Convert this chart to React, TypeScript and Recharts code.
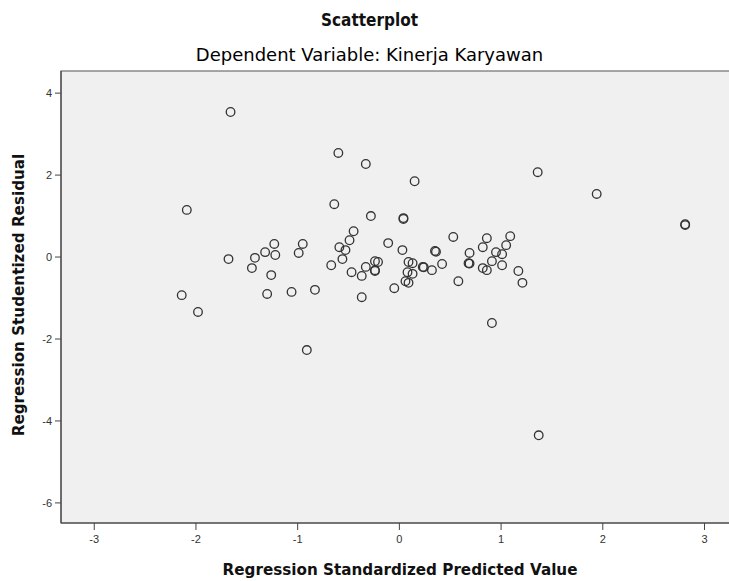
import React from "react";
import {
  ScatterChart,
  Scatter,
  XAxis,
  YAxis,
  ReferenceArea,
} from "recharts";

// Regression Standardized Predicted Value
const predicted = [
  -1.66, -0.6, -0.33, 0.15, 1.36, 1.94, -2.09, -0.64, -0.28, 0.04, 0.04, 2.81, 2.81,
  -0.45, -0.49, -0.11, -0.59, -0.53, 0.03, -1.23, -0.95, -1.32, -1.22, -0.99, -1.42,
  -1.68, -1.45, -0.56, -0.67, -1.26, -0.47, -0.37, -0.33, -0.24, -0.21, -0.24, -0.24,
  0.09, 0.13, 0.08, 0.13, 0.23, 0.24, 0.32, 0.06, 0.09, -0.05, -2.14, -1.98, -1.3,
  -1.06, -0.83, -0.37, -0.91, 0.35, 0.36, 1.37, 0.53, 0.42, 0.69, 0.68, 0.69, 0.58,
  0.86, 0.82, 1.09, 1.05, 0.95, 1.01, 0.91, 1.01, 0.82, 0.86, 1.17, 1.21, 0.91,
];

// Regression Studentized Residual
const residual = [
  3.54, 2.54, 2.27, 1.85, 2.07, 1.54, 1.15, 1.29, 1.0, 0.95, 0.93, 0.8, 0.78,
  0.63, 0.41, 0.34, 0.24, 0.17, 0.17, 0.32, 0.32, 0.12, 0.05, 0.1, -0.02,
  -0.05, -0.27, -0.05, -0.2, -0.44, -0.37, -0.46, -0.24, -0.1, -0.12, -0.34, -0.32,
  -0.12, -0.15, -0.37, -0.41, -0.24, -0.25, -0.32, -0.59, -0.63, -0.76, -0.93, -1.34, -0.9,
  -0.85, -0.8, -0.98, -2.27, 0.15, 0.13, -4.35, 0.49, -0.17, 0.1, -0.15, -0.16, -0.59,
  0.46, 0.24, 0.51, 0.29, 0.12, 0.07, -0.1, -0.2, -0.27, -0.32, -0.34, -0.63, -1.61,
];

const xTicks = [-3, -2, -1, 0, 1, 2, 3];
const yTicks = [4, 2, 0, -2, -4, -6];
const xDomain: [number, number] = [-3.327, 3.3];
const yDomain: [number, number] = [-6.49, 4.54];

const points = predicted.map((x, i) => ({ x, y: residual[i] }));

const tickFont = "'Liberation Sans', Arial, sans-serif";
const titleFont = "'DejaVu Sans', sans-serif";

export default function App() {
  return (
    <div
      style={{
        position: "absolute",
        left: 0,
        top: 0,
        width: 729,
        height: 581,
        overflow: "hidden",
        background: "#fff",
        fontFamily: titleFont,
        color: "#111",
      }}
    >
      <div
        style={{
          position: "absolute",
          top: 9.5,
          left: 369.5,
          transform: "translateX(-50%)",
          whiteSpace: "nowrap",
          fontSize: 17,
          lineHeight: "21px",
          fontFamily: "'DejaVu Sans Condensed', 'DejaVu Sans', sans-serif",
          fontStretch: "condensed",
          fontWeight: "bold",
        }}
      >
        Scatterplot
      </div>
      <div
        style={{
          position: "absolute",
          top: 43.6,
          left: 369.5,
          transform: "translateX(-50%)",
          whiteSpace: "nowrap",
          fontSize: 18,
          lineHeight: "21px",
          color: "#000",
        }}
      >
        Dependent Variable: Kinerja Karyawan
      </div>

      <div style={{ position: "absolute", left: 0, top: 0 }}>
        <ScatterChart
          width={740}
          height={581}
          margin={{ top: 71, right: 5, bottom: 28, left: 30 }}
        >
          <XAxis
            type="number"
            dataKey="x"
            domain={xDomain}
            ticks={xTicks}
            allowDataOverflow
            height={30}
            stroke="#444"
            tickSize={7}
            tickMargin={5}
            tick={{ fontSize: 11, fill: "#333", fontFamily: tickFont }}
          />
          <YAxis
            type="number"
            dataKey="y"
            domain={yDomain}
            ticks={yTicks}
            allowDataOverflow
            width={31}
            stroke="#444"
            tickSize={6}
            tickMargin={3}
            tick={{ fontSize: 11, fill: "#333", fontFamily: tickFont }}
          />
          <ReferenceArea
            x1={xDomain[0]}
            x2={xDomain[1]}
            y1={yDomain[0]}
            y2={yDomain[1]}
            fill="#f0f0f0"
            fillOpacity={1}
            stroke="#555"
            strokeWidth={1.2}
          />
          <Scatter
            data={points}
            isAnimationActive={false}
            shape={(props: any) => (
              <circle
                cx={props.cx}
                cy={props.cy}
                r={4.3}
                fill="none"
                stroke="#333"
                strokeWidth={1.3}
              />
            )}
          />
        </ScatterChart>
      </div>

      <div
        style={{
          position: "absolute",
          top: 560.7,
          left: 400,
          transform: "translateX(-50%)",
          whiteSpace: "nowrap",
          fontSize: 15.2,
          lineHeight: "18px",
          fontWeight: "bold",
        }}
      >
        Regression Standardized Predicted Value
      </div>
      <div
        style={{
          position: "absolute",
          left: 19,
          top: 295,
          transform: "translate(-50%, -50%) rotate(-90deg)",
          whiteSpace: "nowrap",
          fontSize: 15.2,
          lineHeight: "18px",
          fontWeight: "bold",
        }}
      >
        Regression Studentized Residual
      </div>
    </div>
  );
}
